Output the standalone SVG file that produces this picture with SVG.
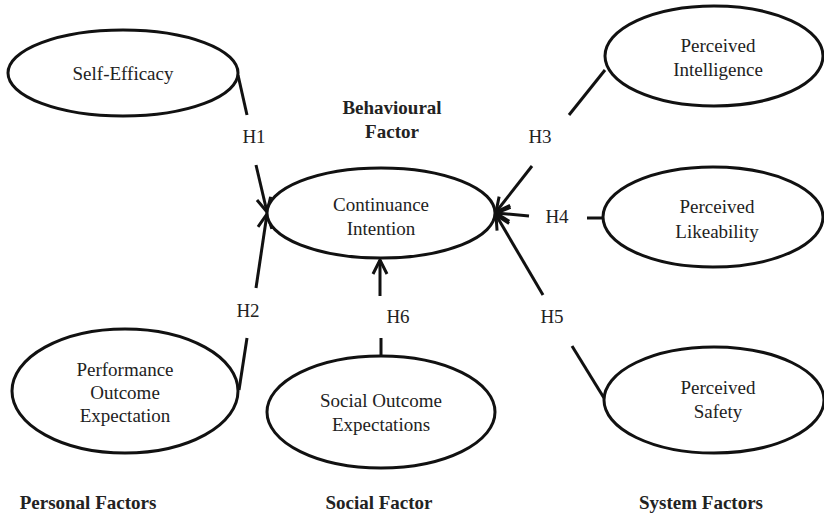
<svg xmlns="http://www.w3.org/2000/svg" width="824" height="515" viewBox="0 0 824 515">
<style>
text{font-family:"Liberation Serif","Times New Roman",serif;font-size:19px;fill:#222;text-anchor:middle}
.b{font-weight:bold}
ellipse{fill:#fff;stroke:#111;stroke-width:3}
.c line{stroke:#111;stroke-width:3;fill:none}
</style>
<defs>
<marker id="ar" markerUnits="userSpaceOnUse" viewBox="-16 -10 18 20" refX="0" refY="0" markerWidth="18" markerHeight="20" orient="auto">
<path d="M-14,-7 L0,0 L-14,7" fill="none" stroke="#111" stroke-width="3"/>
</marker>
</defs>
<rect width="824" height="515" fill="#fff"/>
<g class="c" id="connectors">
<line x1="238" y1="75" x2="247" y2="115"/>
<line x1="256" y1="165" x2="267" y2="212" marker-end="url(#ar)"/>
<line x1="239" y1="390" x2="247" y2="338"/>
<line x1="256" y1="288" x2="267" y2="214" marker-end="url(#ar)"/>
<line x1="381" y1="357" x2="381" y2="338"/>
<line x1="380" y1="296" x2="380" y2="260" marker-end="url(#ar)"/>
<line x1="605" y1="70" x2="569" y2="115"/>
<line x1="532" y1="166" x2="496" y2="212" marker-end="url(#ar)"/>
<line x1="603" y1="218" x2="587" y2="218"/>
<line x1="529" y1="216" x2="496" y2="213" marker-end="url(#ar)"/>
<line x1="604" y1="398" x2="572" y2="346"/>
<line x1="543" y1="295" x2="496" y2="215" marker-end="url(#ar)"/>
<text x="254" y="143">H1</text>
<text x="248" y="317">H2</text>
<text x="540" y="143">H3</text>
<text x="557" y="223">H4</text>
<text x="552" y="323">H5</text>
<text x="398" y="323">H6</text>
</g>
<g id="self-efficacy">
<ellipse cx="123" cy="73" rx="115" ry="43"/>
<text x="123" y="80">Self-Efficacy</text>
</g>
<g id="performance">
<ellipse cx="125" cy="391" rx="113" ry="62"/>
<text x="125" y="376">Performance</text>
<text x="125" y="399">Outcome</text>
<text x="125" y="422">Expectation</text>
</g>
<g id="continuance">
<ellipse cx="381" cy="213" rx="114" ry="45"/>
<text x="381" y="211">Continuance</text>
<text x="381" y="235">Intention</text>
</g>
<g id="social-outcome">
<ellipse cx="381" cy="412" rx="114" ry="56"/>
<text x="381" y="407">Social Outcome</text>
<text x="381" y="431">Expectations</text>
</g>
<g id="intelligence">
<ellipse cx="714" cy="56" rx="109" ry="50"/>
<text x="718" y="52">Perceived</text>
<text x="718" y="76">Intelligence</text>
</g>
<g id="likeability">
<ellipse cx="713" cy="217" rx="110" ry="50"/>
<text x="717" y="213">Perceived</text>
<text x="717" y="238">Likeability</text>
</g>
<g id="safety">
<ellipse cx="714" cy="400" rx="110" ry="53"/>
<text x="718" y="394">Perceived</text>
<text x="718" y="418">Safety</text>
</g>
<g id="labels">
<text class="b" x="392" y="114">Behavioural</text>
<text class="b" x="392" y="138">Factor</text>
<text class="b" x="88" y="509">Personal Factors</text>
<text class="b" x="379" y="509">Social Factor</text>
<text class="b" x="701" y="509">System Factors</text>
</g>
</svg>
